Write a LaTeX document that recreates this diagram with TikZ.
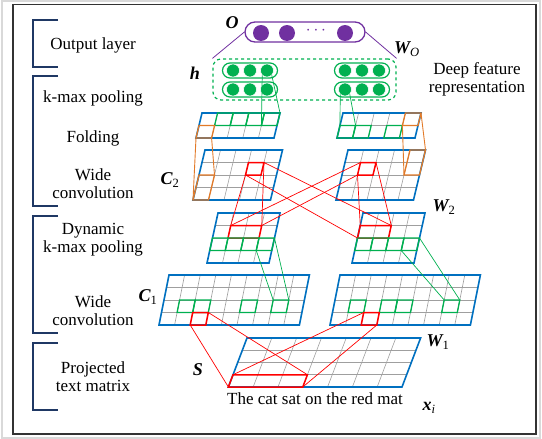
\documentclass[tikz,border=0pt]{standalone}
\usepackage{fontspec}
\setmainfont{Liberation Serif}
\usetikzlibrary{positioning}
\definecolor{mapblue}{RGB}{0,112,192}
\definecolor{cellgreen}{RGB}{0,176,80}
\definecolor{cellorange}{RGB}{226,122,40}
\definecolor{outpurple}{RGB}{112,48,160}
\definecolor{bracketnavy}{RGB}{31,56,100}

% feature map: name, x, y (top left), cols, rows, cell width, cell height, slant
\newcommand{\mapgrid}[8]{%
  \foreach \i in {0,...,#4}{\foreach \j in {0,...,#5}{
    \coordinate (#1-\i-\j) at ({#2+\i*#6-\j*#7*#8},{#3+\j*#7});}}
  \pgfmathtruncatemacro\lastcol{#4-1}
  \pgfmathtruncatemacro\lastrow{#5-1}
  \foreach \i in {1,...,\lastcol} \draw[gridline] (#1-\i-0) -- (#1-\i-#5);
  \foreach \j in {1,...,\lastrow} \draw[gridline] (#1-0-\j) -- (#1-#4-\j);
  \draw[mapframe] (#1-0-0) -- (#1-#4-0) -- (#1-#4-#5) -- (#1-0-#5) -- cycle;
}
\newcommand{\hlcell}[6]{\draw[#1] (#2-#3-#4) -- (#2-#5-#4) -- (#2-#5-#6) -- (#2-#3-#6) -- cycle;}

\begin{document}
\begin{tikzpicture}[x=1pt,y=-1pt,
  gridline/.style={gray!75,line width=0.6pt},
  mapframe/.style={mapblue,line width=1.6pt},
  greencell/.style={cellgreen,line width=1.3pt},
  redcell/.style={red,line width=1.5pt},
  orangecell/.style={cellorange,line width=1.3pt},
  redlink/.style={red,line width=0.7pt},
  greenlink/.style={cellgreen,line width=0.7pt},
  orangelink/.style={cellorange,line width=0.9pt},
  layertext/.style={align=center,font=\fontsize{17}{18}\selectfont,inner sep=0pt},
  varlabel/.style={font=\fontsize{18}{18}\selectfont\bfseries\itshape,inner sep=0pt},
  bracket/.style={bracketnavy,line width=1.5pt},
  neuron/.style={circle,fill=cellgreen,draw=white,line width=0.5pt,minimum size=13pt,inner sep=0pt},
  outneuron/.style={circle,fill=outpurple,minimum size=16pt,inner sep=0pt},
  hgroup/.style={draw=cellgreen,line width=1.2pt,rounded corners=7.5pt,minimum width=55pt,minimum height=15pt,inner sep=0pt}]
\useasboundingbox (0,0) rectangle (542,439);
\draw[gray!30,line width=2pt] (2,1) rectangle (540,438);
\draw[black!80,line width=1.2pt] (13,4.5) rectangle (536,434);

\foreach \t/\b in {20/67,76/206,216/333,343/410}
  \draw[bracket] (58,\t) -- (33,\t) -- (33,\b) -- (58,\b);
\node[layertext] (outtext) at (93,45) {Output layer};
\node[layertext] (kmaxtext) at (93,98) {k-max pooling};
\node[layertext] (foldtext) at (93,138) {Folding};
\node[layertext] (wide2text) at (93,184) {Wide\\convolution};
\node[layertext] (dyntext) at (93,240) {Dynamic\\k-max pooling};
\node[layertext] (wide1text) at (93,311) {Wide\\convolution};
\node[layertext] (projtext) at (93,377) {Projected\\text matrix};

% output and hidden layer
\node[draw=outpurple,line width=1.3pt,rounded corners=10pt,minimum width=120pt,minimum height=20pt] (obox) at (305,32) {};
\foreach \k/\x in {1/261,2/287,3/345} \node[outneuron] (o\k) at (\x,33) {};
\node[outpurple,font=\fontsize{17}{18}\selectfont] (odots) at (316,31) {$\cdots$};
\node[draw=cellgreen,dashed,line width=1.2pt,rounded corners=8pt,minimum width=183pt,minimum height=41pt] (hbox) at (304.5,79.5) {};
\node[hgroup] (hL1) at (250,70.5) {};
\node[hgroup] (hL2) at (250,89.5) {};
\node[hgroup] (hR1) at (362,70.5) {};
\node[hgroup] (hR2) at (362,89.5) {};
\foreach \r/\y in {1/70.5,2/89.5}{
  \foreach \k/\x in {1/233,2/250,3/267} \node[neuron] (hL\r\k) at (\x,\y) {};
  \foreach \k/\x in {1/345,2/362,3/379} \node[neuron] (hR\r\k) at (\x,\y) {};
}
\draw[outpurple,line width=0.8pt] (obox.west) -- (hbox.north west);
\draw[outpurple,line width=0.8pt] (obox.east) -- (hbox.north east);

\node[varlabel] (olabel) at (232,23) {O};
\node[varlabel] (hlabel) at (195,73) {h};
\node[varlabel] (wolabel) at (407,49) {W\textsubscript{\normalfont\itshape O}};
\node[layertext] (deeptext) at (477,79) {Deep feature\\representation};

% feature maps
\mapgrid{kL}{202}{113}{5}{2}{15.6}{12.5}{0.24}
\mapgrid{kR}{343}{113}{5}{2}{15.6}{12.5}{0.24}
\mapgrid{cL}{205}{150}{5}{4}{15.5}{12.5}{0.24}
\mapgrid{cR}{348}{150}{5}{4}{15.5}{12.5}{0.24}
\mapgrid{pL}{218}{213}{4}{4}{15.5}{12.5}{0.22}
\mapgrid{pR}{363}{213}{4}{4}{15.5}{12.5}{0.22}
\mapgrid{bL}{169}{275}{9}{4}{15.6}{12.5}{0.2}
\mapgrid{bR}{340}{275}{9}{4}{15.6}{12.5}{0.2}
\mapgrid{S}{247}{338}{7}{4}{24.8}{12.25}{0.38}

\foreach \i/\k in {1/2,2/3,3/4,4/5} {\hlcell{greencell}{kL}{\i}{0}{\k}{1}}
\hlcell{orangecell}{kL}{0}{1}{1}{2}
\foreach \i/\k in {0/1,1/2,3/4} {\hlcell{greencell}{kR}{\i}{1}{\k}{2}}
\hlcell{orangecell}{kR}{4}{0}{5}{1}
\hlcell{redcell}{cL}{3}{1}{4}{2}
\hlcell{orangecell}{cL}{0}{2}{1}{4}
\hlcell{redcell}{cR}{1}{1}{2}{2}
\hlcell{orangecell}{cR}{4}{0}{5}{2}
\hlcell{redcell}{pL}{1}{1}{3}{2}
\hlcell{redcell}{pR}{0}{1}{2}{2}
\foreach \i/\k in {0/1,1/2,2/3,3/4} {\hlcell{greencell}{pL}{\i}{2}{\k}{3} \hlcell{greencell}{pR}{\i}{2}{\k}{3}}
\foreach \i/\k in {1/2,2/3,5/6,7/8} {\hlcell{greencell}{bL}{\i}{2}{\k}{3}}
\foreach \i/\k in {1/2,3/4,4/5,7/8} {\hlcell{greencell}{bR}{\i}{2}{\k}{3}}
\hlcell{redcell}{bL}{2}{3}{3}{4}
\hlcell{redcell}{bR}{2}{3}{3}{4}
\hlcell{redcell}{S}{0}{3}{3}{4}

% links between layers
\draw[greenlink] (hL13.south west) -- (kL-4-1);
\draw[greenlink] (hL13.south east) -- (kL-5-0);
\draw[greenlink] (hR21.south west) -- (kR-0-1);
\draw[greenlink] (hR21.south east) -- (kR-1-1);
\draw[orangelink] (kL-0-2) -- (cL-0-4);
\draw[orangelink] (kL-1-2) -- (cL-1-2);
\draw[orangelink] (kR-4-1) -- (cR-4-2);
\draw[orangelink] (kR-5-0) -- (cR-5-0);
\draw[redlink] (cL-3-2) -- (pL-1-1);
\draw[redlink] (cL-4-1) -- (pL-3-1);
\draw[redlink] (cL-4-1) -- (pR-2-1);
\draw[redlink] (cL-3-2) -- (pR-0-2);
\draw[redlink] (cR-1-2) -- (pR-0-1);
\draw[redlink] (cR-2-1) -- (pR-2-1);
\draw[redlink] (cR-1-1) -- (pL-1-1);
\draw[redlink] (cR-1-2) -- (pL-3-1);
\draw[greenlink] (pL-3-3) -- (bL-7-2);
\draw[greenlink] (pL-4-2) -- (bL-8-2);
\draw[greenlink] (pR-3-3) -- (bR-7-2);
\draw[greenlink] (pR-4-2) -- (bR-8-2);
\draw[redlink] (bL-2-4) -- (S-0-4);
\draw[redlink] (bL-3-3) -- (S-3-3);
\draw[redlink] (bR-2-3) -- (S-0-3);
\draw[redlink] (bR-3-4) -- (S-3-4);

\node[varlabel] (c2label) at (170,180) {C\textsubscript{\normalfont 2}};
\node[varlabel] (w2label) at (444,207) {W\textsubscript{\normalfont 2}};
\node[varlabel] (c1label) at (148,297) {C\textsubscript{\normalfont 1}};
\node[varlabel] (w1label) at (438,342) {W\textsubscript{\normalfont 1}};
\node[varlabel] (slabel) at (198,370) {S};
\node[varlabel] (xlabel) at (429,408) {x\textsubscript{\normalfont\itshape i}};
\node[layertext] (sentence) at (315,399) {The cat sat on the red mat};
\end{tikzpicture}
\end{document}
